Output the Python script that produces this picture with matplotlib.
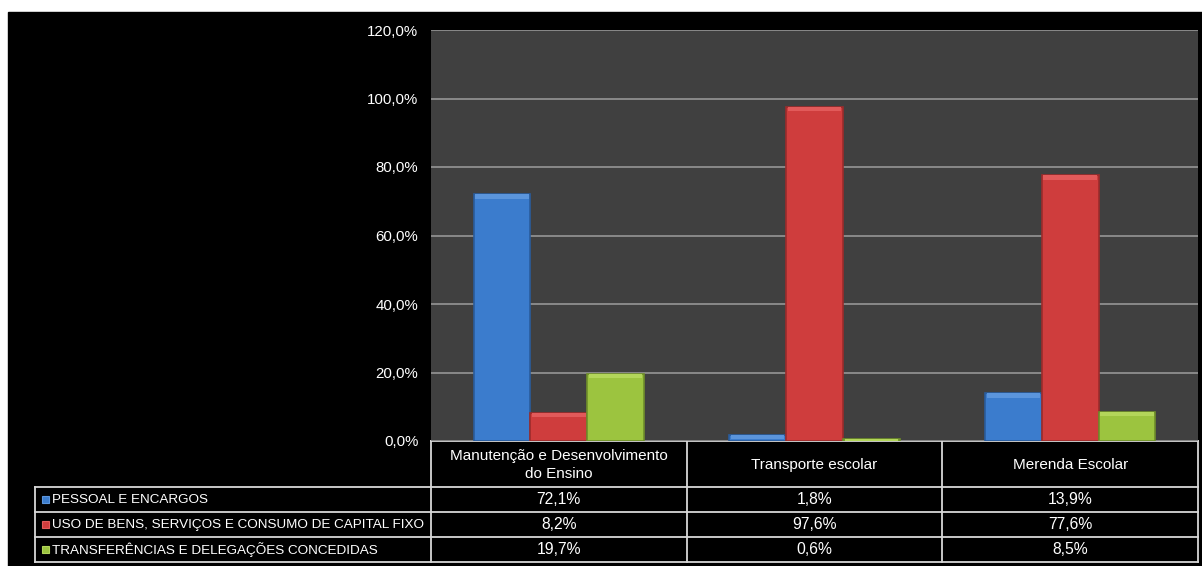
import matplotlib
matplotlib.use("Agg")
import matplotlib.pyplot as plt
from matplotlib import font_manager
from matplotlib.patches import Rectangle
import numpy as np

categories = ["Manutenção e Desenvolvimento\ndo Ensino", "Transporte escolar", "Merenda Escolar"]
series_names = ["PESSOAL E ENCARGOS",
                "USO DE BENS, SERVIÇOS E CONSUMO DE CAPITAL FIXO",
                "TRANSFERÊNCIAS E DELEGAÇÕES CONCEDIDAS"]
pessoal = [72.1, 1.8, 13.9]
uso_bens = [8.2, 97.6, 77.6]
transferencias = [19.7, 0.6, 8.5]
value_labels = [["72,1%", "1,8%", "13,9%"],
                ["8,2%", "97,6%", "77,6%"],
                ["19,7%", "0,6%", "8,5%"]]
y_ticks = [0, 20, 40, 60, 80, 100, 120]
y_tick_labels = ["0,0%", "20,0%", "40,0%", "60,0%", "80,0%", "100,0%", "120,0%"]

series = [pessoal, uso_bens, transferencias]
face_colors = ["#3b7ccd", "#cf3d3d", "#9cc43f"]
edge_colors = ["#2a5c9c", "#9c2b2b", "#6f8f2a"]
top_colors = ["#5b95dc", "#e25a5a", "#b3d65a"]

available = {f.name for f in font_manager.fontManager.ttflist}
base_font = "Liberation Sans" if "Liberation Sans" in available else "DejaVu Sans"

W, H = 1202, 566
fig = plt.figure(figsize=(W / 100, H / 100), dpi=100, facecolor="white")

# pixel-space canvas for background and the data table
bg = fig.add_axes([0, 0, 1, 1], zorder=0)
bg.set_xlim(0, W)
bg.set_ylim(H, 0)
bg.axis("off")
bg.add_patch(Rectangle((8, 12), W - 8, H - 12, color="black"))

px_left, px_right, px_top, px_bottom = 431, 1198, 30, 441
ax = fig.add_axes([px_left / W, 1 - px_bottom / H,
                   (px_right - px_left) / W, (px_bottom - px_top) / H], zorder=2)
ax.set_facecolor("#404040")
ax.set_xlim(-0.5, len(categories) - 0.5)
ax.set_ylim(0, 120)
ax.set_yticks(y_ticks)
ax.set_yticklabels(y_tick_labels, color="white", fontsize=10.8, fontfamily=base_font)
ax.tick_params(axis="y", length=0, pad=9)
ax.set_xticks([])
for s in ax.spines.values():
    s.set_visible(False)
ax.grid(axis="y", color="#8a8a8a", linewidth=1.4)
ax.set_axisbelow(True)

x = np.arange(len(categories))
bw = 0.222
offsets = [-bw, 0, bw]
for vals, off, fc, ec, tc in zip(series, offsets, face_colors, edge_colors, top_colors):
    vals = np.asarray(vals)
    ax.bar(x + off, vals, width=bw, color=fc, edgecolor=ec, linewidth=1.2, zorder=3)
    cap = np.minimum(vals, 1.3)
    ax.bar(x + off, cap, bottom=vals - cap, width=bw * 0.94, color=tc,
           linewidth=0, zorder=4)

# data table beneath the plot
line_kw = dict(color="#d8d8d8", linewidth=1.3)
col_w = (px_right - px_left) / len(categories)
col_edges = [px_left + i * col_w for i in range(len(categories) + 1)]
row_edges = [441, 487, 512, 537, 562]
tbl_left = 35

bg.plot([px_left, px_right], [row_edges[0], row_edges[0]], **line_kw)
for yv in row_edges[1:]:
    bg.plot([tbl_left, px_right], [yv, yv], **line_kw)
bg.plot([tbl_left, tbl_left], [row_edges[1], row_edges[-1]], **line_kw)
for xv in col_edges:
    bg.plot([xv, xv], [row_edges[0], row_edges[-1]], **line_kw)

for i, cat in enumerate(categories):
    cx = (col_edges[i] + col_edges[i + 1]) / 2
    bg.text(cx, (row_edges[0] + row_edges[1]) / 2 + 1, cat, color="white",
            fontsize=11, fontfamily=base_font, ha="center", va="center",
            linespacing=1.3)

for r, name in enumerate(series_names):
    cy = (row_edges[r + 1] + row_edges[r + 2]) / 2
    bg.add_patch(Rectangle((42, cy - 3.5), 7, 7, facecolor=face_colors[r],
                           edgecolor=top_colors[r], linewidth=0.8))
    bg.text(52, cy + 0.5, name, color="white", fontsize=9.7, fontfamily=base_font,
            ha="left", va="center")
    for i in range(len(categories)):
        cx = (col_edges[i] + col_edges[i + 1]) / 2
        bg.text(cx, cy, value_labels[r][i], color="white", fontsize=11.3,
                fontfamily=base_font, ha="center", va="center")

fig.savefig("out.png", dpi=100, facecolor=fig.get_facecolor())
